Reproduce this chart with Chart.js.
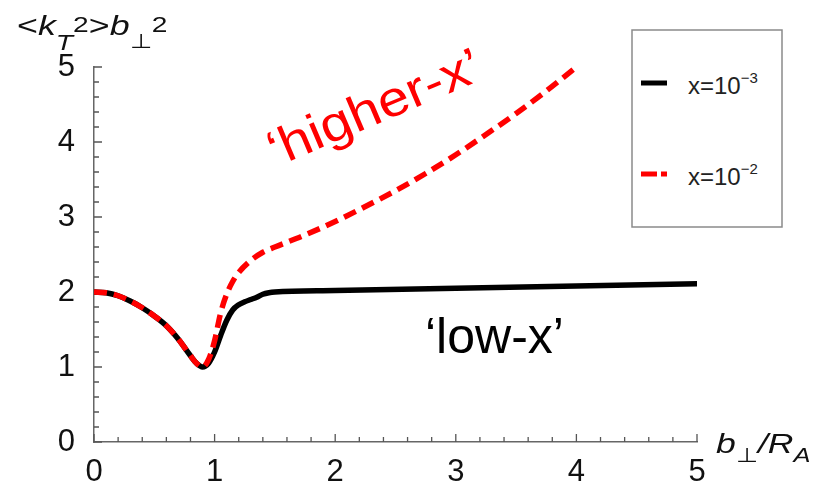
<!DOCTYPE html>
<html>
<head>
<meta charset="utf-8">
<script src="https://cdn.jsdelivr.net/npm/chart.js@4.4.1/dist/chart.umd.min.js"></script>
<style>
  html, body { margin: 0; padding: 0; background: #fff; }
  #wrap { position: relative; width: 821px; height: 486px; }
  #c { position: absolute; left: 0; top: 0; }
  #over { position: absolute; left: 0; top: 0; pointer-events: none; }
  #over text { font-family: "Liberation Sans", Arial, sans-serif; }
</style>
</head>
<body>
<div id="wrap">
  <canvas id="c" width="821" height="486"></canvas>
  <svg id="over" width="821" height="486">
    <!-- y axis title (original is stretched sideways a bit) -->
    <text transform="translate(17 35) scale(1.28 1)" font-size="28" fill="#111">&lt;<tspan font-style="italic">k</tspan><tspan font-style="italic" font-size="22" dy="15">T</tspan><tspan font-size="22" dy="-18">2</tspan><tspan font-size="28" dy="3">&gt;</tspan><tspan font-style="italic">b</tspan><tspan font-size="20" dy="13">⊥</tspan><tspan font-size="22" dy="-16">2</tspan></text>
    <!-- x axis title -->
    <text transform="translate(716 453) scale(1.27 1)" font-size="28" fill="#111"><tspan font-style="italic">b</tspan><tspan font-size="20" dy="9">⊥</tspan><tspan font-style="italic" font-size="28" dy="-9">/R</tspan><tspan font-style="italic" font-size="20" dy="9">A</tspan></text>
    <!-- legend -->
    <rect x="632" y="30" width="150" height="197" fill="#fff" stroke="#8a8a8a" stroke-width="1.5"/>
    <line x1="641" y1="83" x2="667" y2="83" stroke="#000" stroke-width="5"/>
    <text x="688" y="94" font-size="24" fill="#222">x=10<tspan font-size="15" dy="-11">−3</tspan></text>
    <line x1="641" y1="174" x2="657" y2="174" stroke="#f00" stroke-width="5"/>
    <line x1="661" y1="174" x2="667" y2="174" stroke="#f00" stroke-width="5"/>
    <text x="688" y="185" font-size="24" fill="#222">x=10<tspan font-size="15" dy="-11">−2</tspan></text>
    <!-- annotations -->
    <text transform="translate(276 167) rotate(-23) scale(1.12 1)" font-size="50" fill="#f00">‘higher-x’</text>
    <text x="425" y="353" font-size="50" fill="#000">‘low-x’</text>
  </svg>
</div>
<script>
// x = 1e-3 (black, solid)
const lowB   = [0, 0.1, 0.2, 0.3, 0.4, 0.5, 0.6, 0.7, 0.8, 0.85, 0.9, 0.95, 1.0, 1.05, 1.1, 1.15, 1.2, 1.25, 1.3, 1.35, 1.4, 1.45, 1.5, 2.0, 3.0, 4.0, 5.0];
const lowVal = [2.0, 1.99, 1.95, 1.88, 1.79, 1.68, 1.55, 1.37, 1.15, 1.05, 1.0, 1.05, 1.2, 1.42, 1.62, 1.76, 1.83, 1.87, 1.9, 1.93, 1.97, 1.99, 2.0, 2.02, 2.05, 2.08, 2.11];

// x = 1e-2 (red, dashed)
const highB   = [0, 0.1, 0.2, 0.3, 0.4, 0.5, 0.6, 0.7, 0.8, 0.85, 0.9, 0.95, 1.0, 1.05, 1.1, 1.15, 1.2, 1.3, 1.4, 1.5, 1.75, 2.0, 2.25, 2.5, 2.75, 3.0, 3.25, 3.5, 3.75, 4.0];
const highVal = [2.0, 1.99, 1.95, 1.88, 1.79, 1.68, 1.55, 1.37, 1.15, 1.05, 1.0, 1.1, 1.35, 1.72, 1.97, 2.14, 2.26, 2.42, 2.53, 2.6, 2.76, 2.94, 3.14, 3.35, 3.58, 3.83, 4.1, 4.38, 4.68, 5.0];

const xTicks = [0, 1, 2, 3, 4, 5];
const yTicks = [0, 1, 2, 3, 4, 5];

function pts(xs, ys) {
  return xs.map((v, i) => ({ x: v, y: ys[i] }));
}

// small inward tick marks like the original plot
const innerTicks = {
  id: 'innerTicks',
  beforeDatasetsDraw(chart) {
    const { ctx, chartArea: a, scales: { x, y } } = chart;
    ctx.save();
    ctx.strokeStyle = '#555';
    ctx.lineWidth = 1.3;
    ctx.beginPath();
    for (let i = 0; i <= 25; i++) {
      const v = i / 5;
      const len = i % 5 ? 5 : 8;
      const px = x.getPixelForValue(v);
      ctx.moveTo(px, a.bottom);
      ctx.lineTo(px, a.bottom - len);
      const py = y.getPixelForValue(v);
      ctx.moveTo(a.left, py);
      ctx.lineTo(a.left + len, py);
    }
    ctx.stroke();
    ctx.restore();
  }
};

const tickFont = { family: '"Liberation Sans", Arial, sans-serif', size: 31 };

new Chart(document.getElementById('c'), {
  type: 'line',
  data: {
    datasets: [
      {
        label: 'x=10^-2',
        data: pts(highB, highVal),
        borderColor: '#ff0000',
        borderWidth: 5.5,
        borderDash: [13, 7],
        pointRadius: 0,
        cubicInterpolationMode: 'monotone',
        order: 0
      },
      {
        label: 'x=10^-3',
        data: pts(lowB, lowVal),
        borderColor: '#000',
        borderWidth: 5.5,
        pointRadius: 0,
        cubicInterpolationMode: 'monotone',
        order: 1
      }
    ]
  },
  options: {
    responsive: false,
    animation: false,
    devicePixelRatio: 1,
    layout: { padding: { top: 67, right: 124, left: 0, bottom: 0 } },
    plugins: { legend: { display: false }, tooltip: { enabled: false } },
    scales: {
      x: {
        type: 'linear',
        min: 0,
        max: 5,
        afterBuildTicks: s => { s.ticks = xTicks.map(v => ({ value: v })); },
        afterFit: s => { s.height = 44; },
        ticks: { font: tickFont, color: '#111', padding: 4, maxRotation: 0 },
        grid: { display: false },
        border: { display: true, color: '#666', width: 1.5 }
      },
      y: {
        min: 0,
        max: 5,
        afterBuildTicks: s => { s.ticks = yTicks.map(v => ({ value: v })); },
        afterFit: s => { s.width = 94; },
        ticks: { font: tickFont, color: '#111', padding: 11 },
        grid: { display: false },
        border: { display: true, color: '#666', width: 1.5 }
      }
    }
  },
  plugins: [innerTicks]
});
</script>
</body>
</html>
